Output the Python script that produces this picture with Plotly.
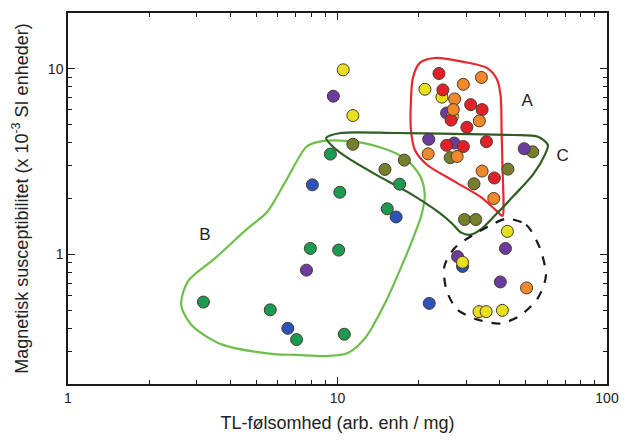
import plotly.graph_objects as go

# ---- data (TL sensitivity, magnetic susceptibility) ----
green_x = [3.18, 5.63, 7.05, 10.6, 7.93, 10.1, 9.41, 10.2, 17.0, 15.3]
green_y = [0.553, 0.502, 0.347, 0.371, 1.076, 1.054, 3.47, 2.16, 2.39, 1.76]

blue_x = [8.07, 6.54, 16.5, 21.9, 29.1]
blue_y = [2.37, 0.399, 1.59, 0.544, 0.86]

purple_x = [9.65, 7.67, 25.4, 21.8, 27.1, 49.3, 27.9, 42.0, 40.2]
purple_y = [7.12, 0.822, 5.78, 4.17, 3.98, 3.71, 0.972, 1.076, 0.71]

yellow_x = [10.5, 11.4, 21.1, 24.4, 26.7, 42.7, 29.1, 33.5, 35.6, 40.9]
yellow_y = [9.88, 5.6, 7.76, 7.04, 5.55, 1.33, 0.906, 0.491, 0.491, 0.499]

red_x = [23.8, 24.6, 31.2, 34.4, 26.4, 30.2, 35.7, 25.4, 29.3, 38.2]
red_y = [9.44, 7.7, 6.41, 6.03, 5.29, 4.84, 4.05, 3.87, 3.81, 2.58]

orange_x = [34.2, 29.3, 27.2, 26.9, 33.6, 21.7, 27.8, 34.4, 38.0, 50.3]
orange_y = [8.99, 8.25, 6.88, 6.03, 5.24, 3.48, 3.37, 2.81, 2.0, 0.659]

olive_x = [11.4, 15.0, 17.7, 26.2, 53.0, 42.9, 32.1, 29.6, 32.6]
olive_y = [3.92, 2.87, 3.22, 3.32, 3.57, 2.88, 2.4, 1.54, 1.54]

# group outlines (closed loops, data coordinates)
A_x = [22.9, 20.2, 19.05, 18.73, 18.73, 19.36, 21.42, 27.13, 34.04, 38.95, 40.97,
       41.31, 40.97, 40.63, 40.29, 38.95, 35.81, 29.5, 22.9]
A_y = [11.44, 10.76, 8.96, 6.76, 4.68, 3.66, 3.05, 2.475, 2.035, 1.714, 1.612,
       1.867, 2.867, 4.68, 7.18, 8.85, 10.12, 10.89, 11.44]

B_x = [8.48, 10.74, 14.18, 17.8, 20.2, 21.07, 20.54, 19.36, 17.36, 15.04, 12.72, 10.92,
       9.08, 7.05, 5.81, 3.69, 2.86, 2.63, 2.79, 3.51, 4.63, 5.48, 6.48, 7.67, 8.48]
B_y = [4.04, 4.09, 3.8, 3.28, 2.665, 2.111, 1.652, 1.293, 0.874, 0.549, 0.357, 0.294,
       0.283, 0.287, 0.29, 0.328, 0.419, 0.536, 0.718, 0.952, 1.375, 1.693, 2.537, 3.8, 4.04]

C_x = [9.08, 10.3, 16.37, 27.13, 44.96, 55.46, 60.34, 58.84, 53.19, 44.96, 37.97, 34.32,
       31.29, 28.77, 26.67, 23.9, 18.25, 13.83, 10.74, 9.47, 9.08]
C_y = [4.24, 4.51, 4.51, 4.46, 4.4, 4.3, 3.89, 3.45, 2.697, 2.06, 1.593, 1.375,
       1.277, 1.309, 1.462, 1.673, 2.163, 2.697, 3.36, 3.89, 4.24]

D_x = [42.36, 50.13, 56.41, 59.33, 55.46, 47.66, 40.29, 32.91, 27.82, 25.36, 24.93,
       27.13, 31.55, 37.34, 42.36]
D_y = [1.554, 1.444, 1.076, 0.764, 0.583, 0.468, 0.424, 0.446, 0.504, 0.643, 0.863,
       1.076, 1.262, 1.444, 1.554]

# group labels
label_text = ["A", "B", "C"]
label_x = [50.6, 3.22, 68.5]
label_y = [6.68, 1.262, 3.36]

FONT = "Liberation Sans, Arial, Helvetica, sans-serif"

fig = go.Figure()

outline_sets = [
    (A_x, A_y, "#e8262e", "solid"),
    (B_x, B_y, "#6cc04a", "solid"),
    (C_x, C_y, "#2e5e22", "solid"),
    (D_x, D_y, "#1a1a1a", "dash"),
]
for xs, ys, col, dash in outline_sets:
    fig.add_trace(go.Scatter(
        x=xs, y=ys, mode="lines",
        line=dict(color=col, width=2.2, shape="spline", smoothing=0.8, dash=dash),
        hoverinfo="skip", showlegend=False))

series = [
    (green_x, green_y, "#1a9a52"),
    (olive_x, olive_y, "#74802e"),
    (blue_x, blue_y, "#2c54b8"),
    (purple_x, purple_y, "#6a3c9e"),
    (yellow_x, yellow_y, "#e6e01e"),
    (red_x, red_y, "#e2202a"),
    (orange_x, orange_y, "#f0882c"),
]
for xs, ys, col in series:
    fig.add_trace(go.Scatter(
        x=xs, y=ys, mode="markers",
        marker=dict(size=12, color=col, line=dict(color="#4a3a2a", width=1)),
        showlegend=False))

fig.add_trace(go.Scatter(
    x=label_x, y=label_y, mode="text", text=label_text,
    textfont=dict(size=17, color="#222222", family=FONT),
    showlegend=False, hoverinfo="skip"))

axis_common = dict(
    type="log", showgrid=False, zeroline=False,
    showline=True, linecolor="#1a1a1a", linewidth=1.5, mirror="ticks",
    tickmode="linear", dtick=1,
    ticks="inside", ticklen=7, tickcolor="#1a1a1a", tickwidth=1.3,
    minor=dict(ticks="inside", ticklen=4, dtick="D1", tickcolor="#1a1a1a",
               tickwidth=1.1, showgrid=False),
    tickfont=dict(size=14, color="#222222", family=FONT),
)

fig.update_xaxes(range=[0, 2],
                 title=dict(text="TL-følsomhed (arb. enh / mg)", standoff=12,
                            font=dict(size=18, color="#222222", family=FONT)),
                 **axis_common)
fig.update_yaxes(range=[-0.699, 1.301],
                 title=dict(text="Magnetisk susceptibilitet (x 10<sup>-3</sup> SI enheder)", standoff=15,
                            font=dict(size=18, color="#222222", family=FONT)),
                 **axis_common)

fig.update_layout(
    width=630, height=441,
    margin=dict(l=68, r=15, t=11, b=54),
    paper_bgcolor="white", plot_bgcolor="white",
    showlegend=False,
)

fig.write_html("out.html")
